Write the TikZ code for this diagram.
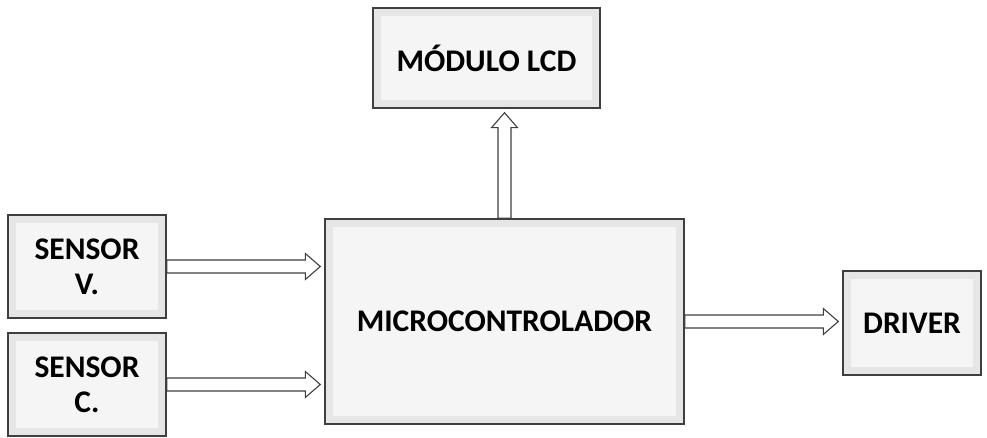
\documentclass[tikz,border=0pt]{standalone}
\usepackage{fontspec}
\setmainfont{Carlito}
\usetikzlibrary{calc}
\definecolor{edgeGray}{HTML}{3F3F3F}
\definecolor{bevelGray}{HTML}{E6E6E6}
\definecolor{faceGray}{HTML}{F5F5F5}
\tikzset{
  blockbox/.style={draw=edgeGray, line width=1.4pt, fill=bevelGray, align=center,
    font=\fontsize{31.5}{35}\selectfont\bfseries, inner sep=2pt,
    path picture={\fill[faceGray] ([shift={(8pt,-8pt)}]path picture bounding box.north west)
      rectangle ([shift={(-8pt,8pt)}]path picture bounding box.south east);}},
  % hollow block arrow from start to target
  blockflow/.style={draw=edgeGray, line width=1.1pt, fill=white, line join=miter,
    to path={let \p1=(\tikztostart), \p2=($(\tikztotarget)!4pt!(\tikztostart)$),
      \p3=($(\p2)!15pt!(\p1)$) in
      ($(\p1)!6.5pt!90:(\p2)$) -- ($(\p3)!6.5pt!-90:(\p1)$) -- ($(\p3)!13pt!-90:(\p1)$)
      -- (\p2) -- ($(\p3)!13pt!90:(\p1)$) -- ($(\p3)!6.5pt!90:(\p1)$)
      -- ($(\p1)!6.5pt!-90:(\p2)$) -- cycle}}
}

\begin{document}
\begin{tikzpicture}[x=1pt, y=-1pt]
  \path[use as bounding box, fill=white] (0,0) rectangle (987,438);

  \node[blockbox, minimum width=227pt, minimum height=100pt] (lcd) at (486.5,58) {MÓDULO LCD};
  \node[blockbox, minimum width=359pt, minimum height=205pt] (micro) at (504.5,321.5) {MICROCONTROLADOR};
  \node[blockbox, minimum width=158pt, minimum height=103pt] (sensv) at (87,266.5) {SENSOR\\V.};
  \node[blockbox, minimum width=158pt, minimum height=103pt] (sensc) at (87,384.5) {SENSOR\\C.};
  \node[blockbox, minimum width=138pt, minimum height=104pt] (driver) at (912,323) {DRIVER};

  \draw[blockflow] (micro.north) to (micro.north |- lcd.south);
  \draw[blockflow] (sensv.east) to (sensv.east -| micro.west);
  \draw[blockflow] (sensc.east) to (sensc.east -| micro.west);
  \draw[blockflow] (micro.east) to (micro.east -| driver.west);
\end{tikzpicture}
\end{document}
